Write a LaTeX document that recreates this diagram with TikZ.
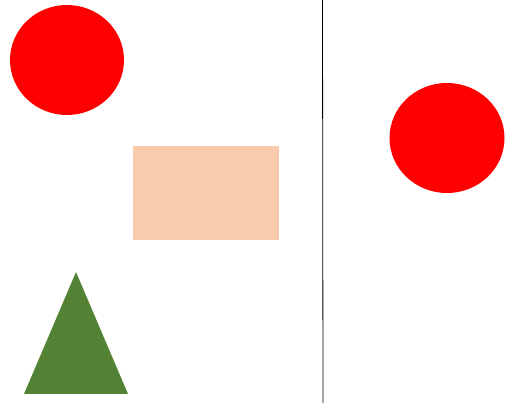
\documentclass[tikz,border=0pt]{standalone}
\definecolor{peach}{HTML}{F8CBAD}
\definecolor{leaf}{HTML}{548235}
\begin{document}
\begin{tikzpicture}[x=1pt,y=-1pt]
\useasboundingbox (0,0) rectangle (512,403);
\fill[white] (0,0) rectangle (512,403);
\fill[red] (67,60) ellipse [x radius=57, y radius=55];
\fill[peach] (133,146) rectangle (279,240);
\fill[leaf] (76,272) -- (128,394) -- (24,394) -- cycle;
\draw[black, line width=0.8pt] (322.5,0) -- (323,403);
\fill[red] (447,138) ellipse [x radius=57.5, y radius=55];
\end{tikzpicture}
\end{document}
